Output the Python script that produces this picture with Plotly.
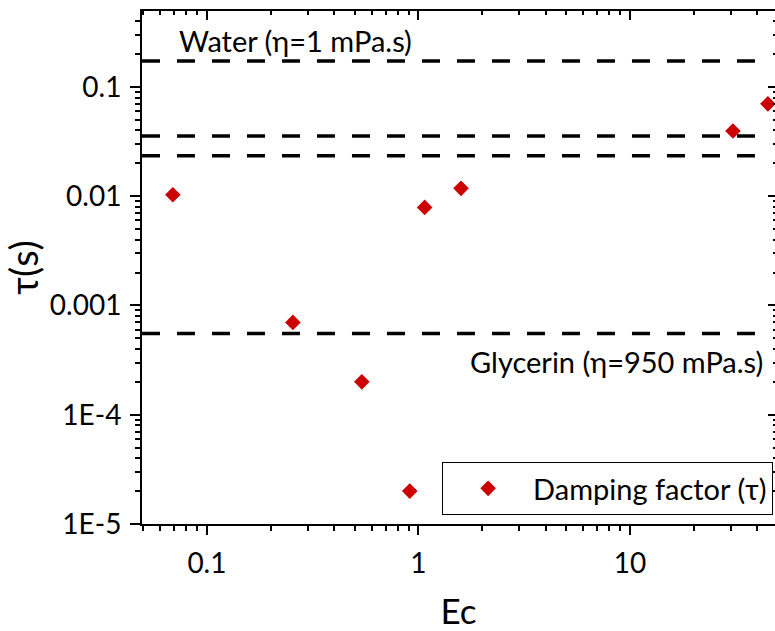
import plotly.graph_objects as go

# Data
ec = [0.069, 0.255, 0.54, 0.91, 1.07, 1.59, 30.7, 44.9]
tau = [0.0103, 7.0e-4, 2.0e-4, 2.0e-5, 7.9e-3, 0.0118, 0.0395, 0.070]

ref_levels = [0.173, 0.0356, 0.0234, 5.55e-4]
ref_x = [0.0493, 40]

y_tickvals = [1e-5, 1e-4, 1e-3, 1e-2, 1e-1]
y_ticktext = ["1E-5", "1E-4", "0.001", "0.01", "0.1"]
x_tickvals = [0.1, 1, 10]
x_ticktext = ["0.1", "1", "10"]

x_range = [-1.307, 1.686]
y_range = [-5.0, -0.305]

FONT = "Lato"
RED = "#CC0000"

fig = go.Figure()

for lvl in ref_levels:
    fig.add_trace(go.Scatter(
        x=ref_x, y=[lvl, lvl], mode="lines",
        line=dict(color="black", width=3.5, dash="18px,17px"),
        showlegend=False, hoverinfo="skip"))

fig.add_trace(go.Scatter(
    x=ec, y=tau, mode="markers", name="Damping factor (τ)",
    marker=dict(symbol="diamond", size=12, color=RED)))

# dummy trace for mirrored axes
fig.add_trace(go.Scatter(x=[], y=[], xaxis="x2", yaxis="y2", showlegend=False))

minor_x = [m * 10**d for d in range(-2, 2) for m in range(2, 10)]
minor_y = [m * 10**d for d in range(-6, 0) for m in range(2, 10)]

axis_common = dict(type="log", showgrid=False, zeroline=False, showline=True,
                   linecolor="black", linewidth=2)

fig.update_layout(
    width=775, height=631,
    margin=dict(l=142, r=0, t=11, b=107),
    paper_bgcolor="white", plot_bgcolor="white",
    font=dict(family=FONT, color="black"),
    xaxis=dict(**axis_common, range=x_range, tickmode="array",
               tickvals=x_tickvals, ticktext=x_ticktext, automargin=False,
               ticks="outside", ticklen=9, tickwidth=2, tickcolor="black",
               tickfont=dict(size=28, family=FONT), ticklabelstandoff=4,
               minor=dict(tickmode="array", tickvals=minor_x, ticks="outside",
                          ticklen=5, tickwidth=1.5, tickcolor="black", showgrid=False),
               title=dict(text="Ec", font=dict(size=35, family=FONT), standoff=31)),
    yaxis=dict(**axis_common, range=y_range, tickmode="array",
               tickvals=y_tickvals, ticktext=y_ticktext, automargin=False,
               ticks="outside", ticklen=10, tickwidth=2, tickcolor="black",
               tickfont=dict(size=28, family=FONT), ticklabelstandoff=3,
               minor=dict(tickmode="array", tickvals=minor_y, ticks="outside",
                          ticklen=5, tickwidth=1.5, tickcolor="black", showgrid=False),
               title=dict(text="τ(s)", font=dict(size=38, family=FONT), standoff=8)),
    xaxis2=dict(**axis_common, range=x_range, overlaying="x", side="top", anchor="y",
                tickmode="array", tickvals=x_tickvals, showticklabels=False,
                ticks="inside", ticklen=9, tickwidth=2, tickcolor="black",
                minor=dict(tickmode="array", tickvals=minor_x, ticks="inside",
                           ticklen=4, tickwidth=1.5, tickcolor="black", showgrid=False)),
    yaxis2=dict(**axis_common, range=y_range, overlaying="y", side="right", anchor="x",
                tickmode="array", tickvals=y_tickvals, showticklabels=False,
                ticks="inside", ticklen=7, tickwidth=2, tickcolor="black",
                minor=dict(tickmode="array", tickvals=minor_y, ticks="inside",
                           ticklen=2, tickwidth=1.5, tickcolor="black", showgrid=False)),
    legend=dict(x=0.997, y=0.0175, xanchor="right", yanchor="bottom",
                bgcolor="white", bordercolor="black", borderwidth=1,
                font=dict(size=29, family=FONT), itemwidth=80),
    annotations=[
        dict(text="Water (η=1 mPa.s)", xref="paper", yref="paper",
             x=0.0553, y=0.943, xanchor="left", yanchor="middle", showarrow=False,
             font=dict(size=29, family=FONT)),
        dict(text="Glycerin (η=950 mPa.s)", xref="paper", yref="paper",
             x=0.984, y=0.316, xanchor="right", yanchor="middle", showarrow=False,
             font=dict(size=29, family=FONT)),
    ],
)

fig.write_html("out.html")
